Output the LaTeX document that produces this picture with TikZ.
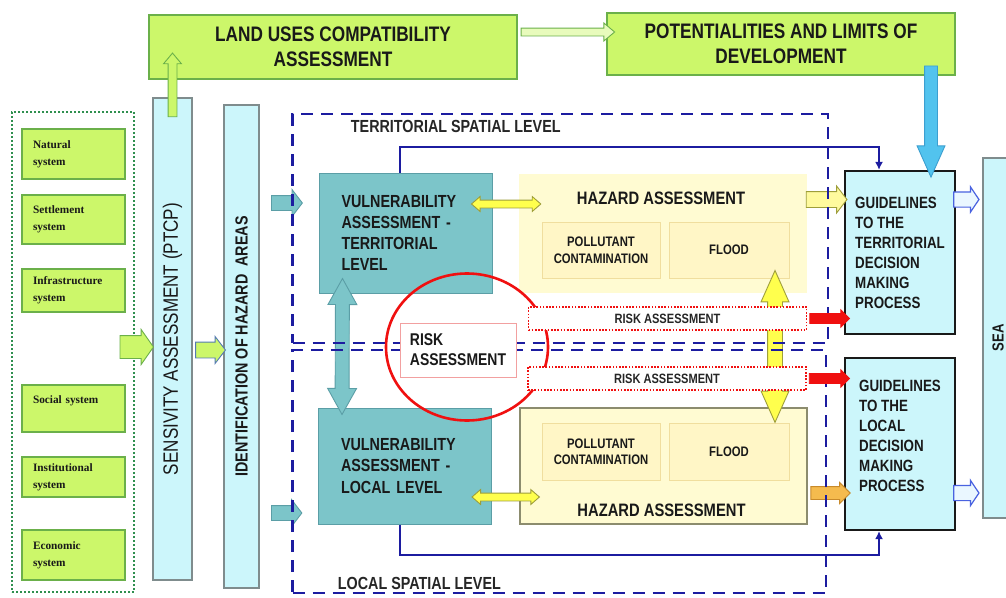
\documentclass[tikz,border=0pt]{standalone}
\usepackage{fontspec}
\setmainfont{Liberation Sans}[FakeStretch=0.82]
\newfontfamily\sysserif{Liberation Serif}
\usetikzlibrary{arrows.meta, positioning, calc, shapes.arrows}
\definecolor{rplime}{HTML}{CCF76A}
\definecolor{rplimeline}{HTML}{6BB04A}
\definecolor{rpdotgreen}{HTML}{2F8F4F}
\definecolor{rpcyan}{HTML}{CCF6FB}
\definecolor{rpcolline}{HTML}{7F8C8D}
\definecolor{rpteal}{HTML}{7CC5C9}
\definecolor{rptealline}{HTML}{5B9EA6}
\definecolor{rpsand}{HTML}{FFFBD2}
\definecolor{rpsandin}{HTML}{FFF6C6}
\definecolor{rpsandline}{HTML}{F0DE9E}
\definecolor{rphazline}{HTML}{8C8C6E}
\definecolor{rpnavy}{HTML}{1C1CA0}
\definecolor{rpred}{HTML}{F01010}
\definecolor{rppink}{HTML}{F2A0A0}
\definecolor{rpsky}{HTML}{52C3EE}
\definecolor{rpskyline}{HTML}{3C9FD0}
\definecolor{rpyellow}{HTML}{FFFF4D}
\definecolor{rpyellowline}{HTML}{9E9E3A}
\definecolor{rppale}{HTML}{FFFA9E}
\definecolor{rporange}{HTML}{F5BB4E}
\definecolor{rporangeline}{HTML}{C88A2A}
\definecolor{rpice}{HTML}{EAF7FF}
\definecolor{rpblue}{HTML}{4A63E0}
\newcommand{\blockarrow}[4]{%
  \path let \p1=(#3), \p2=(#4),
    \n1={veclen(\x2-\x1,\y2-\y1)}, \n2={atan2(\y2-\y1,\x2-\x1)} in
    node[#1, minimum height=\n1, rotate=\n2] (#2) at ($(\p1)!0.5!(\p2)$) {};}
\tikzset{
  sysgroup/.style={draw=rpdotgreen, line width=2pt, dash pattern=on 2pt off 2pt},
  sysbox/.style={draw=rplimeline, fill=rplime, line width=1.5pt, minimum width=103,
                 text width=81pt, align=left, text=black!90,
                 font=\sysserif\bfseries\fontsize{11.3}{17}\selectfont},
  topbox/.style={draw=rplimeline, fill=rplime, line width=1.5pt, align=center,
                 text=black!90, font=\bfseries\fontsize{21}{25}\selectfont},
  column/.style={draw=rpcolline, fill=rpcyan, line width=1.2pt, text=black!90},
  vulbox/.style={draw=rptealline, fill=rpteal, line width=1pt, minimum width=173,
                 text width=128pt, align=left, text=black!90,
                 font=\bfseries\fontsize{17.5}{21.3}\selectfont},
  hazbox/.style={fill=rpsand, minimum width=288},
  subbox/.style={draw=rpsandline, fill=rpsandin, line width=1pt, minimum width=118,
                 minimum height=56, align=center, text=black!90,
                 font=\bfseries\fontsize{13.8}{16.5}\selectfont},
  hazlabel/.style={text=black!90, font=\bfseries\fontsize{18}{20}\selectfont},
  levelbox/.style={draw=rpnavy, line width=2.2pt, dash pattern=on 12pt off 8pt},
  levellabel/.style={text=black!85, font=\bfseries\fontsize{17.5}{20}\selectfont},
  riskbar/.style={draw=rpred, fill=white, line width=1.6pt, dash pattern=on 1.6pt off 1.6pt,
                  minimum width=278, minimum height=23, text=black!85,
                  font=\bfseries\fontsize{13.5}{15}\selectfont},
  riskbox/.style={draw=rppink, fill=white, line width=1pt, minimum width=116,
                  minimum height=54, align=left, text=black!90,
                  font=\bfseries\fontsize{17}{20}\selectfont},
  riskring/.style={draw=rpred, line width=2.6pt},
  guidebox/.style={draw=black!90, fill=rpcyan, line width=2.2pt, minimum width=110,
                   align=left, text=black!90, font=\bfseries\fontsize{16.3}{20}\selectfont},
  flowline/.style={draw=rpnavy, line width=2pt, -{Latex[length=8pt,width=8pt]}},
  blockarrow/.style={single arrow, inner xsep=0pt, outer sep=0pt, line width=0.9pt},
  twinarrow/.style={double arrow, inner xsep=0pt, outer sep=0pt, line width=0.9pt},
  greenbig/.style={blockarrow, draw=rplimeline, fill=rplime, inner ysep=11pt,
                   single arrow head extend=6pt, single arrow tip angle=110},
  greenmid/.style={blockarrow, draw=rpblue!70!rplimeline, fill=rplime, inner ysep=7.5pt,
                   single arrow head extend=5.5pt, single arrow tip angle=105},
  greenthin/.style={blockarrow, draw=rplimeline, fill=rplime, inner ysep=4pt,
                    single arrow head extend=4.5pt, single arrow tip angle=80},
  greenopen/.style={blockarrow, draw=rplimeline, fill=rplime!45, inner ysep=3.5pt,
                    single arrow head extend=5pt, single arrow tip angle=80},
  skyarrow/.style={blockarrow, draw=rpskyline, fill=rpsky, inner ysep=6pt,
                   single arrow head extend=7.5pt, single arrow tip angle=48},
  tealarrow/.style={blockarrow, draw=rptealline, fill=rpteal, inner ysep=7pt,
                    single arrow head extend=6pt, single arrow tip angle=105},
  tealboth/.style={twinarrow, draw=rptealline, fill=rpteal, inner ysep=6.5pt,
                   double arrow head extend=7.5pt, double arrow tip angle=58},
  yellowboth/.style={twinarrow, draw=rpyellowline, fill=rpyellow, inner ysep=3.5pt,
                     double arrow head extend=3.5pt, double arrow tip angle=82},
  yellowtall/.style={twinarrow, draw=rpyellowline, fill=rpyellow, inner ysep=7pt,
                     double arrow head extend=6.5pt, double arrow tip angle=48},
  paleyellow/.style={blockarrow, draw=rpyellowline, fill=rppale, inner ysep=7.5pt,
                     single arrow head extend=5.5pt, single arrow tip angle=105},
  orangearrow/.style={blockarrow, draw=rporangeline, fill=rporange, inner ysep=6pt,
                      single arrow head extend=4pt, single arrow tip angle=90},
  redarrow/.style={blockarrow, draw=rpred, fill=rpred, inner ysep=4.5pt,
                   single arrow head extend=3.5pt, single arrow tip angle=90},
  seaarrow/.style={blockarrow, draw=rpblue, fill=rpice, line width=1.2pt, inner ysep=7pt,
                   single arrow head extend=5pt, single arrow tip angle=112}
}
\begin{document}
\begin{tikzpicture}[x=1pt, y=-1pt]
  \useasboundingbox[fill=white] (0,0) rectangle (1006,597);

  % systems
  \node[sysgroup, minimum width=122, minimum height=480] (systems) at (73,352) {};
  \node[sysbox, minimum height=50] (natural) at (73.5,154) {Natural\\system};
  \node[sysbox, minimum height=49] (settlement) at (73.5,219.5) {Settlement\\system};
  \node[sysbox, minimum height=43] (infra) at (73.5,290.5) {Infrastructure\\system};
  \node[sysbox, minimum height=47] (social) at (73.5,408.5) {Social system\\\mbox{}};
  \node[sysbox, minimum height=40] (institutional) at (73.5,477) {Institutional\\system};
  \node[sysbox, minimum height=50] (economic) at (73.5,555) {Economic\\system};

  \node[column, minimum width=39, minimum height=482, font=\fontsize{20.8}{24}\selectfont]
    (sens) at (172.5,339) {\rotatebox{90}{SENSIVITY ASSESSMENT (PTCP)}};
  \node[column, minimum width=35, minimum height=483, font=\bfseries\fontsize{17.5}{20}\selectfont]
    (ident) at (241.5,346.5) {\rotatebox{90}{IDENTIFICATION OF HAZARD\ \ AREAS}};

  \node[topbox, minimum width=368, minimum height=64] (landuse) at (333,47)
    {LAND USES COMPATIBILITY\\ASSESSMENT};
  \node[topbox, minimum width=348, minimum height=62] (potential) at (781,44)
    {POTENTIALITIES AND LIMITS OF\\DEVELOPMENT};

  % hazard
  \node[hazbox, minimum height=119] (hazT) at (663,233.5) {};
  \node[hazbox, draw=rphazline, line width=1.2pt, minimum width=287, minimum height=116] (hazL) at (663.5,466) {};
  \node[subbox] (polT) at (601,250) {POLLUTANT\\CONTAMINATION};
  \node[subbox, minimum width=120] (floodT) at (729,250) {FLOOD};
  \node[subbox, minimum height=57] (polL) at (601,451.5) {POLLUTANT\\CONTAMINATION};
  \node[subbox, minimum width=120, minimum height=57] (floodL) at (729,451.5) {FLOOD};
  \node[hazlabel] (hazTlabel) at ($(hazT.north)+(-2,25)$) {HAZARD ASSESSMENT};
  \node[hazlabel] (hazLlabel) at ($(hazL.south)+(-2,-14)$) {HAZARD ASSESSMENT};

  \node[vulbox, minimum height=120] (vulT) at (405.5,233)
    {VULNERABILITY\\ASSESSMENT -\\TERRITORIAL\\LEVEL};
  \node[vulbox, minimum height=116] (vulL) at (405,466)
    {VULNERABILITY\\ASSESSMENT -\\LOCAL LEVEL};

  \node[guidebox, minimum height=163] (guidT) at (900,252.5)
    {GUIDELINES\\TO THE\\TERRITORIAL\\DECISION\\MAKING\\PROCESS};
  \node[guidebox, minimum height=172] (guidL) at (900,444)
    {GUIDELINES\\TO THE\\LOCAL\\DECISION\\MAKING\\PROCESS\\[-3pt]\mbox{}};
  \node[column, minimum width=30, minimum height=360, font=\bfseries\fontsize{16}{18}\selectfont]
    (sea) at (998,338) {\rotatebox{90}{SEA}};

  \draw[flowline] ($(vulT.north)+(-5.5,0)$) -- ++(0,-26) -| ($(guidT.north)+(-21,0)$);
  \draw[flowline] ($(vulL.south)+(-5,0)$) -- ++(0,30) -| ($(guidL.south)+(-21,0)$);

  % block arrows
  \blockarrow{greenbig}{sysarrow}{$(systems.east)+(-19,-5)$}{$(sens.west |- systems.east)+(-3,-5)$}
  \blockarrow{greenmid}{sensarrow}{$(sens.east |- ident.west)+(0,3.5)$}{$(ident.west)+(-1,3.5)$}
  \blockarrow{greenthin}{uparrow}{$(sens.north)+(0,22)$}{$(sens.north |- landuse.south)+(0,-24)$}
  \blockarrow{greenopen}{devarrow}{$(landuse.east)+(1,-15)$}{$(potential.west)+(6,-12)$}
  \blockarrow{skyarrow}{limitarrow}{$(potential.south)+(150,-17)$}{$(guidT.north)+(31,0)$}
  \blockarrow{tealarrow}{areaT}{$(ident.east |- vulT.west)+(9,-30)$}{$(vulT.west)+(-19,-30)$}
  \blockarrow{tealarrow}{areaL}{$(ident.east |- vulL.west)+(9,47)$}{$(vulL.west)+(-19,47)$}
  \blockarrow{tealboth}{vullink}{$(vulT.south)+(-63,-15)$}{$(vulL.north)+(-63,7)$}
  \blockarrow{yellowboth}{linkT}{$(vulT.east)+(-21,-29)$}{$(hazT.west)+(22,-29.5)$}
  \blockarrow{yellowboth}{linkL}{$(vulL.east)+(-20,31)$}{$(hazL.west)+(20,31)$}
  \blockarrow{yellowtall}{hazlink}{$(floodT.south)+(46,-8)$}{$(hazL.north)+(111.5,15)$}
  \blockarrow{paleyellow}{hazoutT}{$(hazT.east)+(-4,-34)$}{$(guidT.west)+(0,-53)$}
  \blockarrow{orangearrow}{hazoutL}{$(hazL.east)+(0,27)$}{$(guidL.west)+(3,49)$}
  \blockarrow{seaarrow}{seaT}{$(guidT.east)+(-5,-53)$}{$(sea.west |- guidT.east)+(-6,-53)$}
  \blockarrow{seaarrow}{seaL}{$(guidL.east)+(-5,49)$}{$(sea.west |- guidL.east)+(-6,49)$}

  % spatial levels
  \node[levelbox, minimum width=535.5, minimum height=229] (terr) at (560.25,228.5) {};
  \node[levelbox, minimum width=533.5, minimum height=243] (local) at (559.25,471.5) {};
  \node[levellabel, anchor=west] (terrlabel) at ($(terr.north west)+(56,14)$) {TERRITORIAL SPATIAL LEVEL};
  \node[levellabel, anchor=west] (locallabel) at ($(local.south west)+(43,-11)$) {LOCAL SPATIAL LEVEL};

  % risk
  \node[riskbox] (riskbox) at (458,350) {RISK\\ASSESSMENT};
  \draw[riskring] ($(riskbox.center)+(9,-3)$) ellipse [x radius=81pt, y radius=73.5pt];
  \node[riskbar] (riskT) at (667.5,318.5) {RISK ASSESSMENT};
  \node[riskbar] (riskL) at (667,378.5) {RISK ASSESSMENT};
  \blockarrow{redarrow}{riskoutT}{riskT.east}{$(guidT.west |- riskT.east)+(3,0)$}
  \blockarrow{redarrow}{riskoutL}{riskL.east}{$(guidL.west |- riskL.east)+(3,0)$}
\end{tikzpicture}
\end{document}
